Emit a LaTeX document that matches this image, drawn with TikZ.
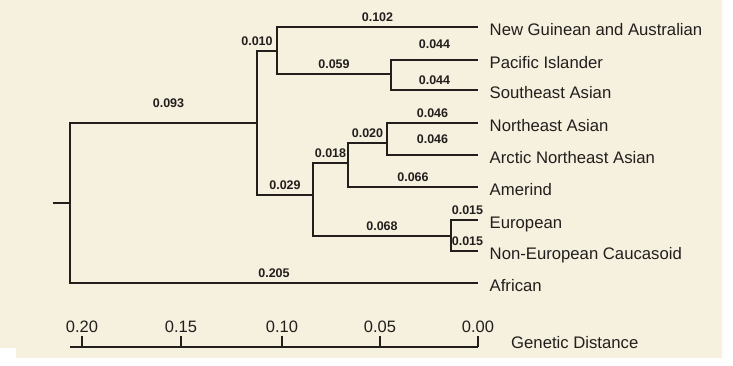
\documentclass[tikz,border=0pt]{standalone}
\usepackage{fontspec}
\setmainfont{Liberation Sans}
\definecolor{paper}{RGB}{246,240,223}
\definecolor{ink}{RGB}{34,30,28}
\tikzset{
	branch/.style={draw=ink, line width=1.3pt},
	dist/.style={font=\fontsize{12.5}{12.5}\selectfont\bfseries, text=ink, inner sep=0pt, above=5pt},
	leaf/.style={font=\fontsize{16.7}{18}\selectfont, text=ink, inner sep=0pt, anchor=base west, xshift=11.5pt, yshift=-8.5pt},
	scalelab/.style={font=\fontsize{16.5}{18}\selectfont, text=ink, inner sep=0pt, above=3pt}
}

\begin{document}
\begin{tikzpicture}[x=1pt, y=-1pt]
			%%%%% START %%%%%
			\useasboundingbox (0,0) rectangle (733,365);
			\fill[paper] (0,0) -- (722,0) -- (722,358) -- (16,358) -- (16,348) -- (0,348) -- cycle;
			
			% inner nodes of the tree
			\coordinate (stub) at (53,203);
			\coordinate (root) at (70,203);
			\coordinate (A) at (257,123);
			\coordinate (B) at (277,51);
			\coordinate (D) at (391,74);
			\coordinate (C) at (313,195);
			\coordinate (E) at (348,163);
			\coordinate (G) at (387,143);
			\coordinate (F) at (451,236);
			
			% tips and their names
			\coordinate (tNG) at (478,27);
			\coordinate (tPI) at (478,60);
			\coordinate (tSE) at (478,90);
			\coordinate (tNE) at (478,123);
			\coordinate (tAN) at (478,155);
			\coordinate (tAM) at (478,187);
			\coordinate (tEU) at (478,220);
			\coordinate (tNC) at (478,251);
			\coordinate (tAF) at (478,283);
			\node[leaf] (NG) at (tNG) {New Guinean and Australian};
			\node[leaf] (PI) at (tPI) {Pacific Islander};
			\node[leaf] (SE) at (tSE) {Southeast Asian};
			\node[leaf] (NE) at (tNE) {Northeast Asian};
			\node[leaf] (AN) at (tAN) {Arctic Northeast Asian};
			\node[leaf] (AM) at (tAM) {Amerind};
			\node[leaf] (EU) at (tEU) {European};
			\node[leaf] (NC) at (tNC) {Non-European Caucasoid};
			\node[leaf] (AF) at (tAF) {African};
			
			% branches
			\draw[branch] (stub) -- (root);
			\draw[branch] (root) |- (A) node[pos=0.75, dist, above=10pt, xshift=5pt] (dA) {0.093};
			\draw[branch] (root) |- (tAF) node[pos=0.75, dist] (dAF) {0.205};
			
			\draw[branch] (A) |- (B) node[pos=0.75, dist, xshift=-10pt] (dB) {0.010};
			\draw[branch] (A) |- (C) node[pos=0.75, dist] (dC) {0.029};
			
			\draw[branch] (B) |- (tNG) node[pos=0.75, dist] (dNG) {0.102};
			\draw[branch] (B) |- (D) node[pos=0.75, dist] (dD) {0.059};
			\draw[branch] (D) |- (tPI) node[pos=0.75, dist, above=6pt] (dPI) {0.044};
			\draw[branch] (D) |- (tSE) node[pos=0.75, dist] (dSE) {0.044};
			
			\draw[branch] (C) |- (E) node[pos=0.75, dist] (dE) {0.018};
			\draw[branch] (C) |- (F) node[pos=0.75, dist] (dF) {0.068};
			\draw[branch] (E) |- (G) node[pos=0.75, dist] (dG) {0.020};
			\draw[branch] (E) |- (tAM) node[pos=0.75, dist] (dAM) {0.066};
			\draw[branch] (G) |- (tNE) node[pos=0.75, dist] (dNE) {0.046};
			\draw[branch] (G) |- (tAN) node[pos=0.75, dist, above=6pt] (dAN) {0.046};
			\draw[branch] (F) |- (tEU) node[pos=0.75, dist, xshift=3pt] (dEU) {0.015};
			\draw[branch] (F) |- (tNC) node[pos=0.75, dist, xshift=3pt] (dNC) {0.015};
			
			% scale
			\coordinate (ax0) at (70,347);
			\coordinate (ax1) at (478,347);
			\draw[branch] (ax0) -- (ax1);
			\foreach \x/\v in {82/0.20, 181/0.15, 282/0.10, 380/0.05, 478/0.00}
				\draw[branch] (\x,347) -- (\x,336) node[scalelab] (s\x) {\v};
			\node[font=\fontsize{16.7}{18}\selectfont, text=ink, inner sep=0pt, anchor=base west] (gd) at (511,348) {Genetic Distance};
			
			%%%%% END %%%%%
\end{tikzpicture}
\end{document}
